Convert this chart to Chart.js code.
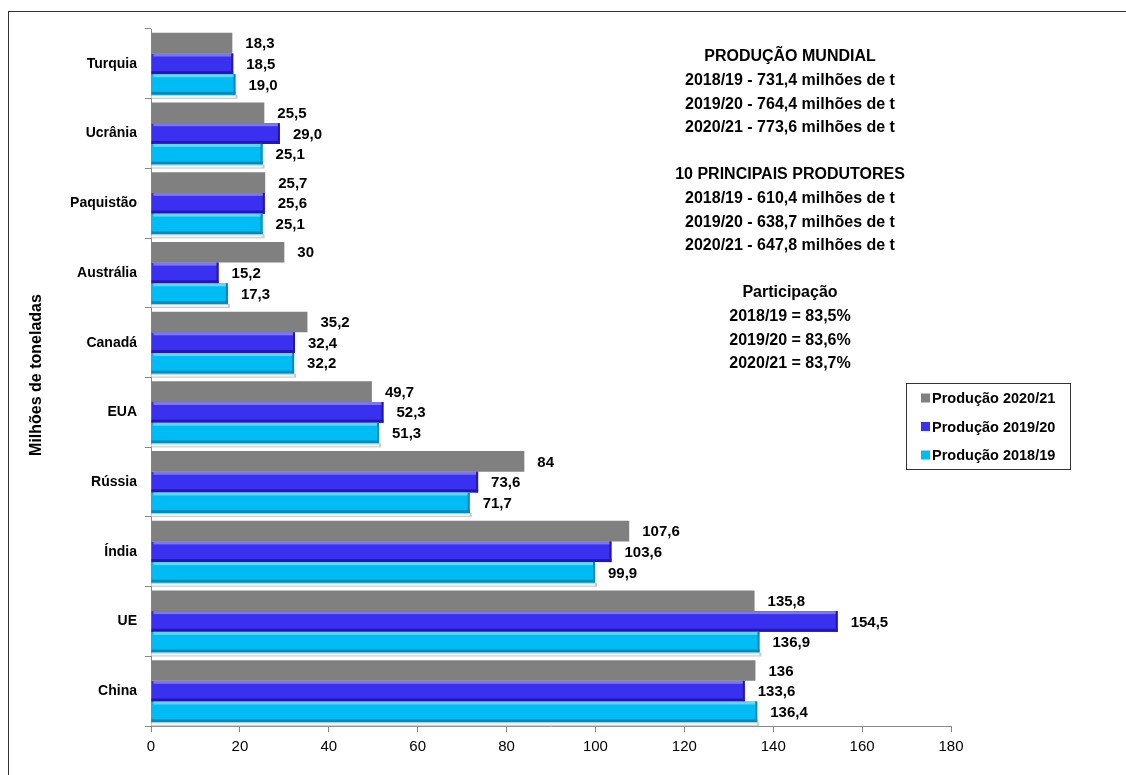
<!DOCTYPE html>
<html>
<head>
<meta charset="utf-8">
<script src="https://cdn.jsdelivr.net/npm/chart.js@4"></script>
<style>
  html, body { margin: 0; padding: 0; background: #fff; overflow: hidden; }
  #wrap { position: relative; width: 1126px; height: 775px; }
  #frame { position: absolute; left: 8px; top: 11px; width: 1140px; height: 800px; border: 1px solid #333; box-sizing: border-box; }
  canvas { position: absolute; left: 0; top: 0; }
</style>
</head>
<body>
<div id="wrap">
  <div id="frame"></div>
  <canvas id="chart" width="1126" height="775"></canvas>
</div>
<script>
const countries = ['Turquia', 'Ucrânia', 'Paquistão', 'Austrália', 'Canadá', 'EUA', 'Rússia', 'Índia', 'UE', 'China'];
const prod2021 = [18.3, 25.5, 25.7, 30, 35.2, 49.7, 84, 107.6, 135.8, 136];
const prod1920 = [18.5, 29.0, 25.6, 15.2, 32.4, 52.3, 73.6, 103.6, 154.5, 133.6];
const prod1819 = [19.0, 25.1, 25.1, 17.3, 32.2, 51.3, 71.7, 99.9, 136.9, 136.4];
const labels2021 = ['18,3', '25,5', '25,7', '30', '35,2', '49,7', '84', '107,6', '135,8', '136'];
const labels1920 = ['18,5', '29,0', '25,6', '15,2', '32,4', '52,3', '73,6', '103,6', '154,5', '133,6'];
const labels1819 = ['19,0', '25,1', '25,1', '17,3', '32,2', '51,3', '71,7', '99,9', '136,9', '136,4'];
const seriesNames = ['Produção 2020/21', 'Produção 2019/20', 'Produção 2018/19'];
const xTicks = [0, 20, 40, 60, 80, 100, 120, 140, 160, 180];
const yTitle = 'Milhões de toneladas';

const infoLines = [
    'PRODUÇÃO MUNDIAL',
    '2018/19 - 731,4 milhões de t',
    '2019/20 - 764,4 milhões de t',
    '2020/21 - 773,6 milhões de t',
    '',
    '10 PRINCIPAIS PRODUTORES',
    '2018/19 - 610,4 milhões de t',
    '2019/20 - 638,7 milhões de t',
    '2020/21 - 647,8 milhões de t',
    '',
    'Participação',
    '2018/19 = 83,5%',
    '2019/20 = 83,6%',
    '2020/21 = 83,7%'
];

const FONT = 'Arial, "Liberation Sans", sans-serif';
const colors = ['#808080', '#3a30f0', '#00bcf5'];
const topShine = [null, '#7a74ff', '#55dcff'];
const bottomShade = [null, '#2418a8', '#0089b8'];
const valueLabels = [labels2021, labels1920, labels1819];

// bevel look + value labels
const barDecor = {
    id: 'barDecor',
    afterDatasetsDraw(chart) {
        const ctx = chart.ctx;
        ctx.save();
        chart.data.datasets.forEach((ds, di) => {
            const meta = chart.getDatasetMeta(di);
            meta.data.forEach((bar, i) => {
                const top = bar.y - bar.height / 2;
                const bottom = bar.y + bar.height / 2;
                const left = bar.base;
                const right = bar.x;
                if (topShine[di]) {
                    ctx.fillStyle = topShine[di];
                    ctx.fillRect(left + 2, top, right - left - 2, 3);
                    ctx.fillStyle = bottomShade[di];
                    ctx.fillRect(left, bottom - 3, right - left, 3);
                    ctx.fillRect(right - 2, top, 2, bottom - top);
                }
                if (di === 2) {
                    ctx.fillStyle = '#c8c8c8';
                    ctx.fillRect(left, bottom, right - left + 2, 4);
                    ctx.fillStyle = '#f4f4f4';
                    ctx.fillRect(left, bottom + 1, right - left, 2);
                }
                ctx.fillStyle = '#000';
                ctx.font = 'bold 15px ' + FONT;
                ctx.textAlign = 'left';
                ctx.textBaseline = 'middle';
                ctx.fillText(valueLabels[di][i], right + 13, bar.y + 1);
            });
        });
        ctx.restore();
    }
};

const infoAndLegend = {
    id: 'infoAndLegend',
    afterDraw(chart) {
        const ctx = chart.ctx;
        ctx.save();
        ctx.fillStyle = '#000';
        ctx.font = 'bold 16px ' + FONT;
        ctx.textAlign = 'center';
        ctx.textBaseline = 'middle';
        infoLines.forEach((line, i) => {
            if (line) ctx.fillText(line, 790, 57 + i * 23.6);
        });

        // y axis title
        ctx.save();
        ctx.translate(37, 375);
        ctx.rotate(-Math.PI / 2);
        ctx.font = 'bold 16px ' + FONT;
        ctx.fillText(yTitle, 0, 0);
        ctx.restore();

        // legend box
        ctx.strokeStyle = '#333';
        ctx.lineWidth = 1;
        ctx.strokeRect(906.5, 383.5, 164, 86);
        ctx.font = 'bold 14.5px ' + FONT;
        ctx.textAlign = 'left';
        seriesNames.forEach((name, i) => {
            const y = 398 + i * 28.5;
            ctx.fillStyle = colors[i];
            ctx.fillRect(921, y - 4.5, 9, 9);
            ctx.fillStyle = '#000';
            ctx.fillText(name, 932, y + 1);
        });
        ctx.restore();
    }
};

const ctx = document.getElementById('chart').getContext('2d');
new Chart(ctx, {
    type: 'bar',
    data: {
        labels: countries,
        datasets: [
            { label: seriesNames[0], data: prod2021, backgroundColor: colors[0] },
            { label: seriesNames[1], data: prod1920, backgroundColor: colors[1] },
            { label: seriesNames[2], data: prod1819, backgroundColor: colors[2] }
        ]
    },
    options: {
        indexAxis: 'y',
        responsive: false,
        animation: false,
        categoryPercentage: 0.89,
        barPercentage: 1.0,
        layout: { padding: { top: 29, right: 175, left: 0, bottom: 0 } },
        plugins: {
            legend: { display: false },
            tooltip: { enabled: false }
        },
        scales: {
            x: {
                min: 0,
                max: 180,
                afterBuildTicks(scale) {
                    scale.ticks = xTicks.map(v => ({ value: v }));
                },
                afterFit(scale) { scale.height = 49; },
                grid: { drawOnChartArea: false, drawTicks: true, tickLength: 6, color: '#888' },
                border: { color: '#888', width: 1 },
                ticks: {
                    color: '#000',
                    font: { family: FONT, size: 15 },
                    padding: 6
                }
            },
            y: {
                afterFit(scale) { scale.width = 151; },
                grid: { drawOnChartArea: false, drawTicks: true, tickLength: 6, color: '#888', offset: true },
                border: { color: '#888', width: 1 },
                ticks: {
                    color: '#000',
                    font: { family: FONT, size: 14, weight: 'bold' },
                    padding: 8
                }
            }
        }
    },
    plugins: [barDecor, infoAndLegend]
});
</script>
</body>
</html>
